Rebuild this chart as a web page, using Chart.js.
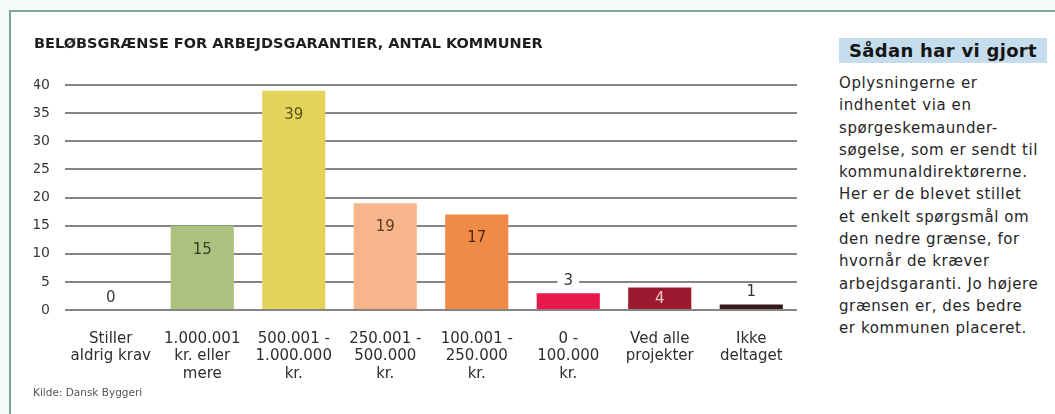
<!DOCTYPE html>
<html><head><meta charset="utf-8">
<script src="https://cdn.jsdelivr.net/npm/chart.js@4"></script>
<style>
html,body{margin:0;padding:0;background:#f5faf7;width:1055px;height:414px;overflow:hidden;font-family:"DejaVu Sans",sans-serif;}
#frame{position:absolute;left:9px;top:10px;width:1070px;height:430px;border:2px solid #7fa596;background:#fff;box-sizing:border-box;}
#wrap{position:absolute;left:0;top:0;width:810px;height:414px;}
#side{position:absolute;left:839px;top:38px;width:216px;color:#262626;}
#side h3{margin:0;background:#c5dcec;width:208px;height:25px;line-height:25px;text-align:center;font-size:18px;font-weight:bold;color:#151515;letter-spacing:0.3px;}
#side p{margin:9px 0 0 0;font-size:15px;line-height:22.3px;letter-spacing:0.6px;white-space:nowrap;}
#src{position:absolute;left:33px;top:386px;font-size:10.5px;color:#555;}
</style></head>
<body>
<div id="frame"></div>
<div id="wrap"><canvas id="c" width="810" height="414"></canvas></div>
<div id="side"><h3>Sådan har vi gjort</h3><p>Oplysningerne er<br>indhentet via en<br>spørgeskemaunder-<br>søgelse, som er sendt til<br>kommunaldirektørerne.<br>Her er de blevet stillet<br>et enkelt spørgsmål om<br>den nedre grænse, for<br>hvornår de kræver<br>arbejdsgaranti. Jo højere<br>grænsen er, des bedre<br>er kommunen placeret.</p></div>
<div id="src">Kilde: Dansk Byggeri</div>
<script>
const chartTitle = 'BELØBSGRÆNSE FOR ARBEJDSGARANTIER, ANTAL KOMMUNER';
const categories = [
  ['Stiller','aldrig krav'],
  ['1.000.001','kr. eller','mere'],
  ['500.001 -','1.000.000','kr.'],
  ['250.001 -','500.000','kr.'],
  ['100.001 -','250.000','kr.'],
  ['0 -','100.000','kr.'],
  ['Ved alle','projekter'],
  ['Ikke','deltaget']
];
const values = [0, 15, 39, 19, 17, 3, 4, 1];
const barColors = ['#adc17f','#adc17f','#e3d35b','#f7b58c','#f08a47','#e8194a','#9c1a30','#35191c'];
const labelColors = ['#3a3a3a','#34402a','#5e5018','#5e3a1e','#4e2a12','#333333','#f3c6c6','#333333'];
const yMin = 0, yMax = 40, yStep = 5;

const FONT = '"DejaVu Sans", sans-serif';

const valueLabels = {
  id: 'valueLabels',
  afterDatasetsDraw(chart) {
    const ctx = chart.ctx;
    const meta = chart.getDatasetMeta(0);
    ctx.save();
    ctx.font = '15px ' + FONT;
    ctx.textAlign = 'center';
    ctx.textBaseline = 'middle';
    meta.data.forEach((bar, i) => {
      const v = values[i];
      const txt = String(v);
      const top = bar.y, base = bar.base;
      let y;
      if (v >= 4) {
        y = Math.min(top + 23, (top + base) / 2);
      } else {
        y = top - 13;
        const w = ctx.measureText(txt).width + 12;
        ctx.fillStyle = '#ffffff';
        ctx.fillRect(bar.x - w / 2, y - 8, w, 16);
      }
      ctx.fillStyle = labelColors[i];
      ctx.fillText(txt, bar.x, y + 1);
    });
    ctx.restore();
  }
};

new Chart(document.getElementById('c'), {
  type: 'bar',
  data: {
    labels: categories,
    datasets: [{
      data: values,
      backgroundColor: barColors,
      borderWidth: 0,
      barPercentage: 0.69,
      categoryPercentage: 1
    }]
  },
  options: {
    responsive: false,
    animation: false,
    layout: { padding: { left: 34, right: 13, top: 0, bottom: 24 } },
    plugins: {
      legend: { display: false },
      tooltip: { enabled: false },
      title: {
        display: true,
        text: chartTitle,
        align: 'start',
        color: '#1e1e1e',
        font: { family: FONT, size: 14.5, weight: 'bold', lineHeight: 1.2 },
        padding: { top: 36, bottom: 31.6 }
      }
    },
    scales: {
      x: {
        grid: { display: false },
        border: { display: false },
        ticks: {
          color: '#2e2e2e',
          font: { family: FONT, size: 15, lineHeight: 1.17 },
          padding: 12,
          maxRotation: 0,
          autoSkip: false
        },
        afterFit(s) { s.height = 80; }
      },
      y: {
        min: yMin, max: yMax,
        ticks: { stepSize: yStep, color: '#3a3a3a', font: { family: FONT, size: 14 }, padding: 15 },
        grid: { color: '#858585', lineWidth: 2, drawTicks: false },
        border: { display: false },
        afterFit(s) { s.width = 31; }
      }
    }
  },
  plugins: [valueLabels]
});
</script>
</body></html>
